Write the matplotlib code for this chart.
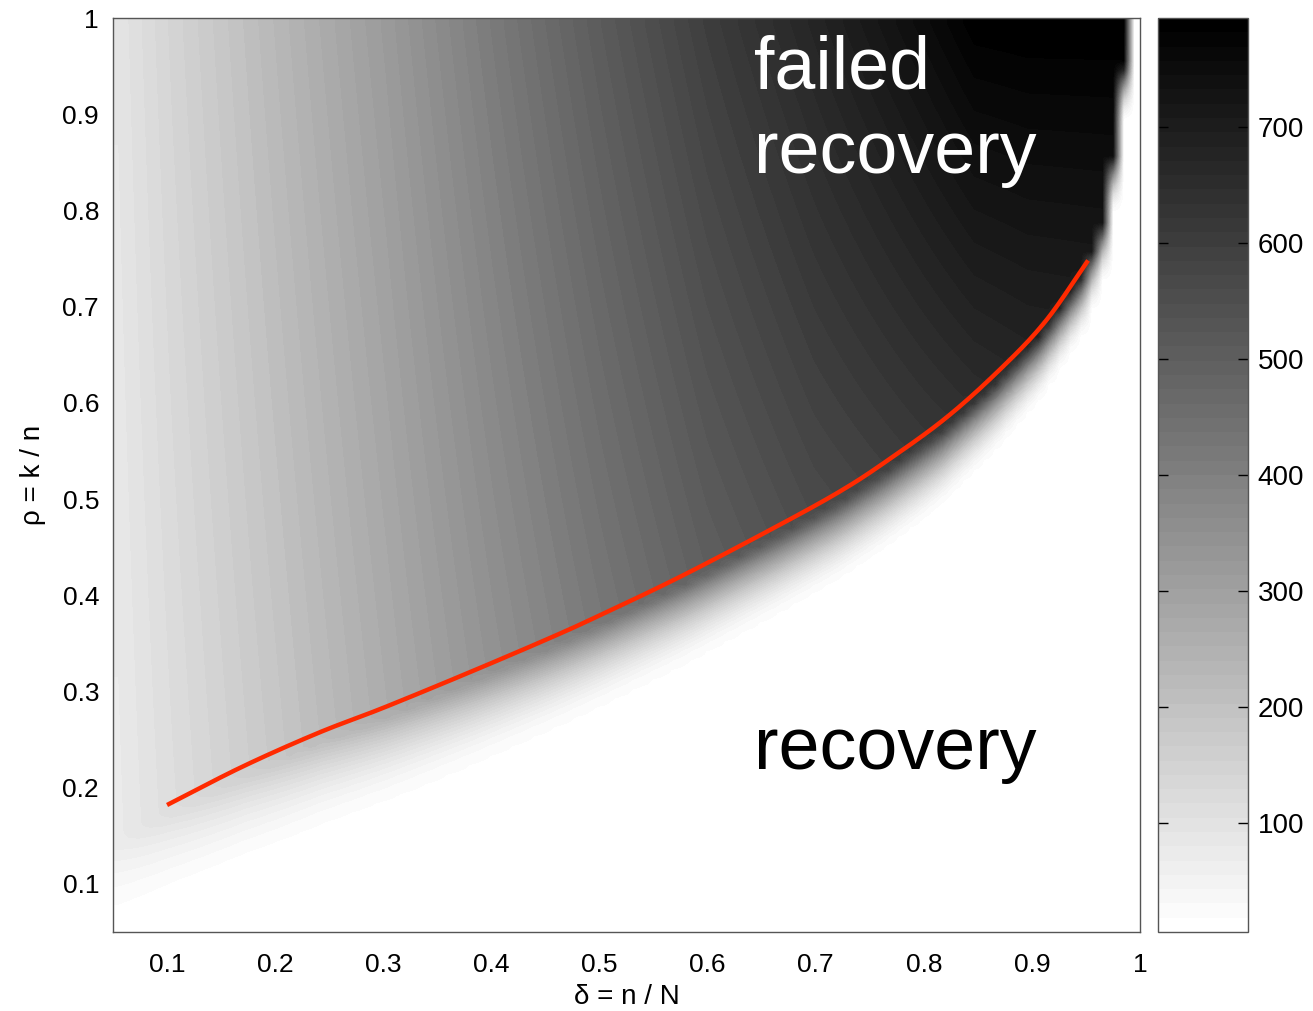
import numpy as np
import matplotlib
matplotlib.use("Agg")
import matplotlib.pyplot as plt
from matplotlib.colors import ListedColormap

plt.rcParams['font.family'] = ['Liberation Sans', 'DejaVu Sans']

# ---- data ----
# red phase-transition curve
curve_delta = [0.10, 0.17, 0.24, 0.30, 0.38, 0.455, 0.50, 0.576, 0.668, 0.724,
               0.765, 0.819, 0.868, 0.912, 0.952]
curve_rho = [0.182, 0.222, 0.257, 0.283, 0.320, 0.356, 0.379, 0.420, 0.474, 0.509,
             0.539, 0.583, 0.632, 0.684, 0.748]
# edge of the dark region beyond the drawn curve
edge_left_delta = [0.05]
edge_left_rho = [0.15]
edge_right_delta = [0.970, 0.984, 0.993, 1.0]
edge_right_rho = [0.80, 0.90, 1.00, 1.10]

# shading level in the failed region, per delta, at rho = 1 and rho = 0.5
level_delta = [0.05, 0.10, 0.20, 0.30, 0.40, 0.50, 0.60, 0.70, 0.80, 0.85, 0.90, 1.00]
level_top = [95, 145, 232, 318, 415, 510, 600, 675, 750, 790, 794, 794]
level_mid = [84, 126, 202, 280, 362, 440, 512, 565, 598, 612, 628, 640]
# width of the fade below the edge, per delta
fade_delta = [0.05, 0.20, 0.50, 0.80, 1.00]
fade_width = [0.10, 0.10, 0.09, 0.085, 0.06]
# shading level in the recovery region, per rho
floor_rho = [0.05, 0.10, 0.15, 0.20, 0.30, 0.50, 1.00]
floor_level = [8, 10, 14, 16, 16, 12, 8]

cbar_ticks = [100, 200, 300, 400, 500, 600, 700]
x_ticks = [0.1, 0.2, 0.3, 0.4, 0.5, 0.6, 0.7, 0.8, 0.9, 1.0]
x_ticklabels = ['0.1', '0.2', '0.3', '0.4', '0.5', '0.6', '0.7', '0.8', '0.9', '1']
y_ticks = [0.1, 0.2, 0.3, 0.4, 0.5, 0.6, 0.7, 0.8, 0.9, 1.0]
y_ticklabels = ['0.1', '0.2', '0.3', '0.4', '0.5', '0.6', '0.7', '0.8', '0.9', '1']
vmin, vmax = 6, 794


def catmull_rom(xs, ys, n=20):
    p = np.column_stack([xs, ys]).astype(float)
    p = np.vstack([2 * p[0] - p[1], p, 2 * p[-1] - p[-2]])
    out = []
    s = np.linspace(0, 1, n, endpoint=False)[:, None]
    for i in range(1, len(p) - 2):
        p0, p1, p2, p3 = p[i - 1], p[i], p[i + 1], p[i + 2]
        seg = 0.5 * ((2 * p1) + (-p0 + p2) * s + (2 * p0 - 5 * p1 + 4 * p2 - p3) * s ** 2
                     + (-p0 + 3 * p1 - 3 * p2 + p3) * s ** 3)
        out.append(seg)
    out.append(p[-2][None, :])
    out = np.vstack(out)
    return out[:, 0], out[:, 1]


# ---- build the field on a grid ----
gd = np.linspace(0.05, 1.0, 96)
gr = np.linspace(0.05, 1.0, 96)
D, R = np.meshgrid(gd, gr)
bd = np.array(edge_left_delta + curve_delta + edge_right_delta)
br = np.array(edge_left_rho + curve_rho + edge_right_rho)
B = np.interp(D, bd, br, right=1.5)
top = np.interp(D, level_delta, level_top)
mid = np.interp(D, level_delta, level_mid)
fail = mid + (top - mid) * (R - 0.5) / 0.5
fail = np.clip(fail, vmin, vmax)
floor = np.interp(R, floor_rho, floor_level)
w = np.interp(D, fade_delta, fade_width)
dist = R - B + 0.012
t = np.clip((dist + w) / w, 0, 1) ** 1.9
Z = floor + (fail - floor) * t

cmap = ListedColormap(plt.cm.gray_r(np.linspace(0.0, 1, 64)))

fig = plt.figure(figsize=(13.13, 10.11), dpi=100)
ax = fig.add_axes([113/1313, 1-932/1011, 1027/1313, 914/1011])
im = ax.imshow(Z, origin='lower', extent=[0.05, 1.0, 0.05, 1.0], aspect='auto',
               cmap=cmap, vmin=vmin, vmax=vmax, interpolation='bilinear',
               interpolation_stage='data')
cx, cy = catmull_rom(curve_delta, curve_rho)
ax.plot(cx, cy, color='#ff2a00', lw=3.2, solid_capstyle='butt')
ax.set_xlim(0.05, 1.0)
ax.set_ylim(0.05, 1.0)
ax.set_xticks(x_ticks)
ax.set_xticklabels(x_ticklabels)
ax.set_yticks(y_ticks)
ax.set_yticklabels(y_ticklabels)
ax.tick_params(length=0, labelsize=19, pad=0)
ax.tick_params(axis='x', pad=15)
ax.tick_params(axis='y', pad=10)
for s in ax.spines.values():
    s.set_color('#555555')
    s.set_linewidth(1.0)
ax.set_xlabel('δ = n / N', fontsize=20, labelpad=5)
ax.set_ylabel('ρ = k / n', fontsize=20, labelpad=12)

ax.text(0.6426, 0.927, 'failed', color='white', fontsize=53, va='baseline', ha='left')
ax.text(0.6426, 0.839, 'recovery', color='white', fontsize=53, va='baseline', ha='left')
ax.text(0.6426, 0.219, 'recovery', color='black', fontsize=53, va='baseline', ha='left')

cax = fig.add_axes([1158/1313, 1-932/1011, 90/1313, 914/1011])
cb = fig.colorbar(im, cax=cax, ticks=cbar_ticks)
cb.outline.set_edgecolor('#555555')
cb.outline.set_linewidth(1.0)
cax.tick_params(direction='in', length=7, width=1, left=True, right=True,
                labelsize=20, pad=7)

fig.savefig('out.png', dpi=100)
